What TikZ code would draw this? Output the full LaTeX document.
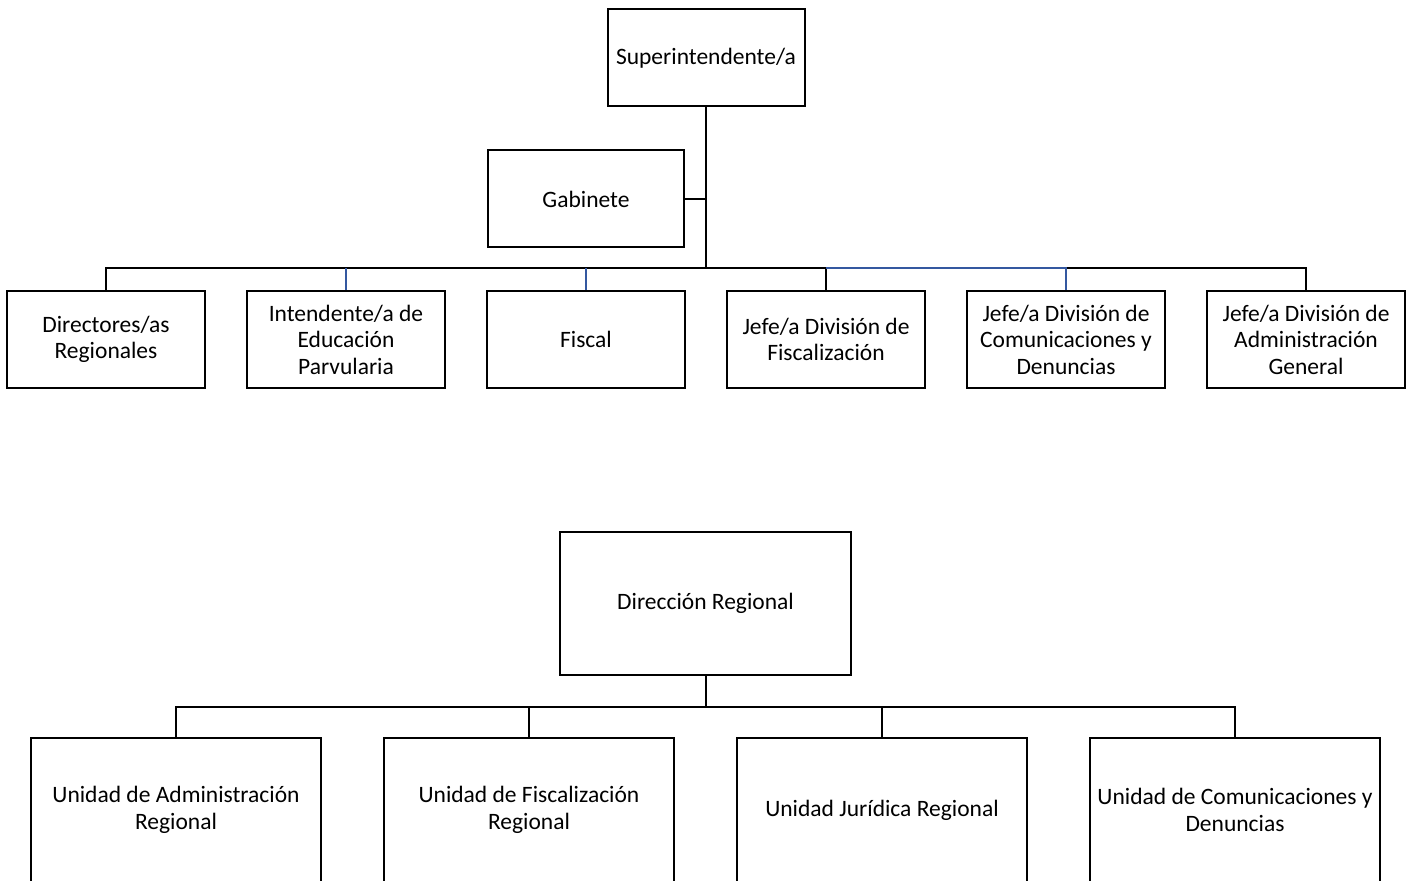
\documentclass[tikz,border=0pt]{standalone}
\usepackage{fontspec}
\setmainfont{Carlito}
\definecolor{linkblue}{RGB}{52,88,160}
\begin{document}
\begin{tikzpicture}[x=1pt,y=-1pt,
  box/.style={draw=black,line width=2pt,inner sep=0pt,align=center,
    font=\fontsize{23.5}{26.5}\selectfont},
  rowbox/.style={box,minimum width=198pt,minimum height=97pt},
  unitbox/.style={box,minimum width=290pt,minimum height=144pt},
  link/.style={line width=2pt,draw=black},
  bluelink/.style={line width=2pt,draw=linkblue}]
\useasboundingbox (0,0) rectangle (1409,882);
\clip (0,0) rectangle (1409,880.5);
% top chart
\node[box,minimum width=197pt,minimum height=97pt] (sup) at (706,58) {Superintendente/a};
\node[box,minimum width=196pt,minimum height=97pt] (gab) at (586,199) {Gabinete};
\node[rowbox] (dir) at (106,339.5) {Directores/as\\Regionales};
\node[rowbox] (int) at (346,339.5) {Intendente/a de\\Educación\\Parvularia};
\node[rowbox] (fis) at (586,339.5) {Fiscal};
\node[rowbox] (fzc) at (826,339.5) {Jefe/a División de\\Fiscalización};
\node[rowbox] (com) at (1066,339.5) {Jefe/a División de\\Comunicaciones y\\Denuncias};
\node[rowbox] (adm) at (1306,339.5) {Jefe/a División de\\Administración\\General};
\coordinate (bar) at (706,268);
\draw[link] (sup.south) -- (bar);
\draw[link] (gab.east) -- (gab.east -| bar);
\draw[link] (dir.north) |- (bar) -| (adm.north);
\draw[link] (fzc.north) -- (fzc.north |- bar);
\draw[bluelink] (int.north) -- (int.north |- bar);
\draw[bluelink] (fis.north) -- (fis.north |- bar);
\draw[bluelink] (fzc.north |- bar) -- (com.north |- bar) -- (com.north);
% bottom chart
\node[box,minimum width=291pt,minimum height=143pt] (dr) at (705.5,603) {Dirección Regional};
\node[unitbox] (u1) at (176,810) {Unidad de Administración\\Regional};
\node[unitbox] (u2) at (529,810) {Unidad de Fiscalización\\Regional};
\node[unitbox] (u3) at (882,810) {Unidad Jurídica Regional};
\node[unitbox] (u4) at (1235,810) {Unidad de Comunicaciones y\\Denuncias};
\coordinate (bar2) at (705.5,707);
\draw[link] (dr.south) -- (bar2);
\draw[link] (u1.north) |- (bar2) -| (u4.north);
\draw[link] (u2.north) -- (u2.north |- bar2);
\draw[link] (u3.north) -- (u3.north |- bar2);
\end{tikzpicture}
\end{document}
